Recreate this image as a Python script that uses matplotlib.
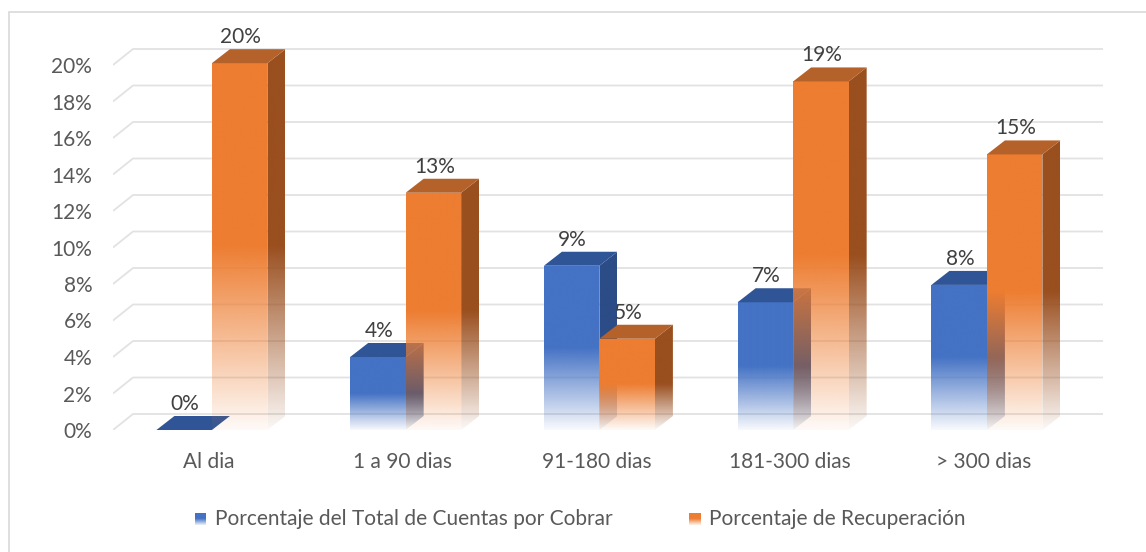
import numpy as np
import matplotlib
matplotlib.use('Agg')
import matplotlib.pyplot as plt
from matplotlib.patches import Polygon, Rectangle
from matplotlib.colors import to_rgb

plt.rcParams['font.family'] = ['Lato', 'DejaVu Sans']

categories = ['Al dia', '1 a 90 dias', '91-180 dias', '181-300 dias', '> 300 dias']
cuentas = [0.0, 4.0, 9.0, 7.0, 7.95]          # % del total de cuentas por cobrar
recuperacion = [20.1, 13.0, 5.0, 19.1, 15.1]  # % de recuperacion
labels_cuentas = ['0%', '4%', '9%', '7%', '8%']
labels_recup = ['20%', '13%', '5%', '19%', '15%']
series_names = ['Porcentaje del Total de Cuentas por Cobrar', 'Porcentaje de Recuperación']
yticks = np.arange(0, 21, 2)

# colours (front, top, side)
blue = ('#4472C4', '#2F5597', '#2B4C86')
orange = ('#ED7D31', '#B5612A', '#9A4F1F')

W, H = 1146, 552
PX_X = 193.75   # px per category
PX_Y = 18.25    # px per percent
fig = plt.figure(figsize=(W / 100, H / 100), dpi=100)
ax = fig.add_axes([113 / W, 122 / H, 990 / W, 405 / H])
xmin, xmax = (113 - 209) / PX_X, (1103 - 209) / PX_X
ymax = 405 / PX_Y

bw = 55.5 / PX_X          # bar width
bdx, bdy = 18 / PX_X, 14 / PX_Y   # bar depth
wdx, wdy = 20 / PX_X, 16 / PX_Y   # wall depth
FS = 15


def grad_face(ax, verts, extent, color, h, z):
    poly = Polygon(verts, closed=True, transform=ax.transData, facecolor='none', edgecolor='none')
    ax.add_patch(poly)
    n = 256
    ys = np.linspace(extent[2], extent[3], n)
    a = np.clip(0.04 + 0.96 * (ys / h) / 0.5, 0, 1)
    img = np.zeros((n, 1, 4))
    img[:, 0, :3] = to_rgb(color)
    img[:, 0, 3] = a
    im = ax.imshow(img, extent=extent, origin='lower', aspect='auto',
                   interpolation='bilinear', zorder=z)
    im.set_clip_path(poly)


def box(ax, x0, h, cols, z):
    front, top, side = cols
    if h > 0:
        grad_face(ax, [(x0, 0), (x0 + bw, 0), (x0 + bw, h), (x0, h)],
                  (x0, x0 + bw, 0, h), front, h, z)
        grad_face(ax, [(x0 + bw, 0), (x0 + bw + bdx, bdy), (x0 + bw + bdx, h + bdy), (x0 + bw, h)],
                  (x0 + bw, x0 + bw + bdx, 0, h + bdy), side, h, z)
    ax.add_patch(Polygon([(x0, h), (x0 + bdx, h + bdy), (x0 + bw + bdx, h + bdy), (x0 + bw, h)],
                         closed=True, facecolor=top, edgecolor='none', zorder=z + 0.1))


# gridlines on floor edge / back wall
for y in yticks:
    ax.plot([xmin, xmin + wdx, xmax], [y, y + wdy, y + wdy], color='#e2e2e2', lw=1.3,
            zorder=1, solid_capstyle='butt')

for i in range(len(categories)):
    c = i + 0.015
    box(ax, c - bw, cuentas[i], blue, 2)
    box(ax, c, recuperacion[i], orange, 3)
    for x0, v, lab in [(c - bw, cuentas[i], labels_cuentas[i]), (c, recuperacion[i], labels_recup[i])]:
        ax.annotate(lab, (x0 + bw / 2, v + bdy), xytext=(1, 12), textcoords='offset pixels',
                    ha='center', va='center', fontsize=FS, color='#404040', zorder=5)

ax.set_xlim(xmin, xmax)
ax.set_ylim(0, ymax)
ax.set_xticks(range(len(categories)))
ax.set_xticklabels(categories)
ax.set_yticks(yticks)
ax.set_yticklabels([f'{v}%' for v in yticks])
ax.tick_params(length=0, labelsize=FS, labelcolor='#595959')
ax.tick_params(axis='y', pad=15)
ax.tick_params(axis='x', pad=16)
for s in ax.spines.values():
    s.set_visible(False)
ax.patch.set_alpha(0)

# chart border (left and top visible)
fig.patches.append(Rectangle((9 / W, -0.1), 1.2, (H - 12) / H + 0.1, transform=fig.transFigure,
                             fill=False, edgecolor='#d9d9d9', lw=1.2))

# legend
for (xs, name, cols) in [(195, series_names[0], blue), (689, series_names[1], orange)]:
    lax = fig.add_axes([xs / W, (H - 525) / H, 11 / W, 12 / H])
    n = 64
    img = np.zeros((n, 1, 4))
    img[:, 0, :3] = to_rgb(cols[0])
    img[:, 0, 3] = np.clip(0.1 + 0.9 * np.linspace(0, 1, n) / 0.5, 0, 1)
    lax.imshow(img, origin='lower', aspect='auto', extent=(0, 1, 0, 1))
    lax.axis('off')
    fig.text((xs + 20) / W, (H - 519) / H, name, ha='left', va='center',
             fontsize=FS, color='#595959')

fig.savefig('out.png', dpi=100)
